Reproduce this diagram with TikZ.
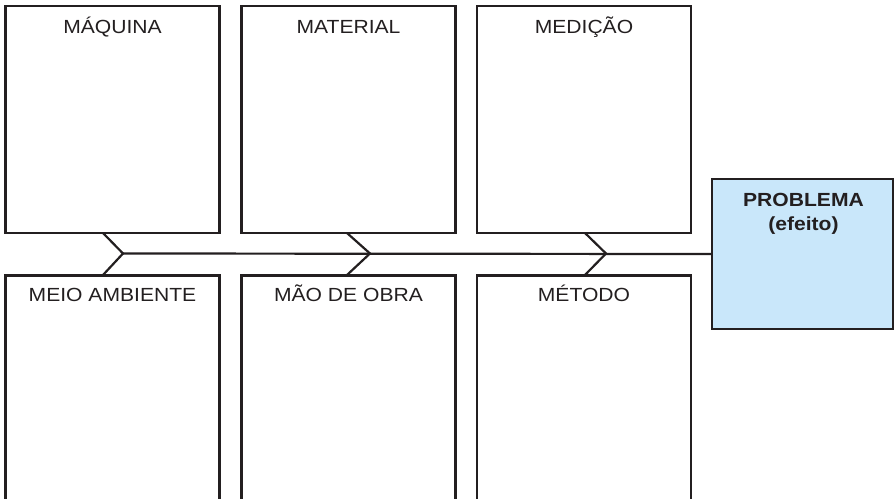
\documentclass[tikz,border=0pt]{standalone}
\usepackage{fontspec}
\setmainfont{Liberation Sans}[FakeStretch=1.11]
\definecolor{ink}{HTML}{231F20}
\definecolor{probfill}{HTML}{C9E7FA}
\tikzset{
  catbox/.style={draw=ink, line width=2.2pt, minimum width=214pt, minimum height=227pt, inner sep=0pt, outer sep=0pt},
  lowbox/.style={draw=ink, line width=2.2pt, minimum width=214pt, minimum height=260pt, inner sep=0pt, outer sep=0pt},
  probbox/.style={draw=ink, fill=probfill, line width=2.2pt, minimum width=181pt, minimum height=150pt, inner sep=0pt, outer sep=0pt},
  cattext/.style={anchor=base, inner sep=0pt, font=\fontsize{19}{23}\selectfont, text=ink},
  probtext/.style={anchor=base, inner sep=0pt, font=\fontsize{19}{24}\selectfont\bfseries, text=ink},
  bone/.style={draw=ink, line width=2.2pt},
}
\begin{document}
\begin{tikzpicture}[x=1pt,y=-1pt]
\clip (0,0) rectangle (894,498);
\useasboundingbox (0,0) rectangle (894,498);
% top boxes
\node[catbox] (b1) at (112.5,119.5) {};
\node[catbox] (b2) at (348.5,119.5) {};
\node[catbox] (b3) at (584,119.5) {};
% bottom boxes (cut by the lower edge)
\node[lowbox] (b4) at (112.5,405.5) {};
\node[lowbox] (b5) at (348.5,405.5) {};
\node[lowbox] (b6) at (584,405.5) {};
% problem box
\node[probbox] (prob) at (802.5,254) {};
% labels
\node[cattext] (t1) at ([yshift=-27pt]b1.north) {MÁQUINA};
\node[cattext] (t2) at ([yshift=-27pt]b2.north) {MATERIAL};
\node[cattext] (t3) at ([yshift=-27pt]b3.north) {MEDIÇÃO};
\node[cattext] (t4) at ([yshift=-25.5pt]b4.north) {MEIO AMBIENTE};
\node[cattext] (t5) at ([yshift=-25.5pt]b5.north) {MÃO DE OBRA};
\node[cattext] (t6) at ([yshift=-25.5pt]b6.north) {MÉTODO};
\node[probtext] (pt1) at ([xshift=1pt,yshift=-27pt]prob.north) {PROBLEMA};
\node[probtext] (pt2) at ([xshift=1pt,yshift=-51pt]prob.north) {(efeito)};
% chevrons
\coordinate (c1a) at (103,233);
\coordinate (c1) at (123,253.5);
\coordinate (c1b) at (103,275);
\coordinate (c2a) at (347,233);
\coordinate (c2) at (370,253.5);
\coordinate (c2b) at (347,275);
\coordinate (c3a) at (585,233);
\coordinate (c3) at (606,253.5);
\coordinate (c3b) at (585,275);
\draw[bone, line join=miter] (c1a) -- (c1) -- (c1b);
\draw[bone, line join=miter] (c2a) -- (c2) -- (c2b);
\draw[bone, line join=miter] (c3a) -- (c3) -- (c3b);
% spine
\draw[bone] (c1) -- (prob.west);
\end{tikzpicture}
\end{document}
